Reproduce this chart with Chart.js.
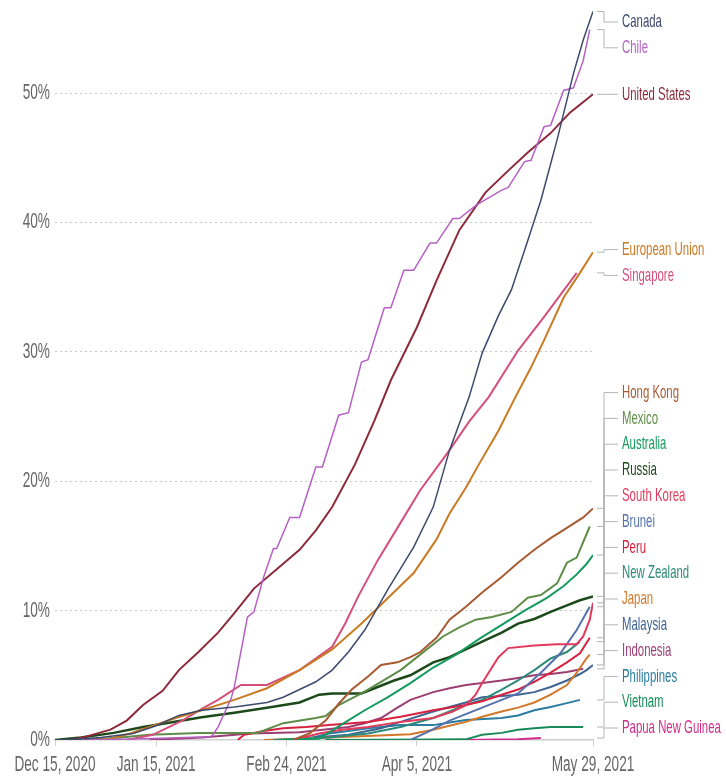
<!DOCTYPE html>
<html>
<head>
<meta charset="utf-8">
<script src="https://cdn.jsdelivr.net/npm/chart.js@4.4.1/dist/chart.umd.min.js"></script>
<style>
  html, body { margin: 0; padding: 0; background: #fff; }
  #wrap { width: 726px; height: 782px; position: relative; }
</style>
</head>
<body>
<div id="wrap"><canvas id="vax-chart"></canvas></div>
<script>
// x values are days since Dec 15, 2020; y values are % of population
const tickDays = [0, 31, 71, 111, 165];
const tickLabels = ['Dec 15, 2020', 'Jan 15, 2021', 'Feb 24, 2021', 'Apr 5, 2021', 'May 29, 2021'];
const yTicks = [0, 10, 20, 30, 40, 50];

const canada = [[0,0],[7,0.05],[14,0.2],[24,0.5],[31,1.1],[38,1.9],[45,2.3],[55,2.55],[65,2.9],[70,3.3],[75,3.9],[80,4.5],[85,5.4],[90,6.8],[95,8.5],[102,11.6],[110,14.9],[116,18.0],[121,22.4],[127,26.5],[131,29.9],[136,32.8],[140,34.8],[145,38.6],[149,41.7],[154,46.4],[159,51.5],[162,54.1],[165,56.3]];
const chile = [[9,0],[27,0.1],[48,0.25],[50,1.0],[54,3.2],[55,4.1],[59,9.5],[61,9.9],[64,12.6],[67,14.8],[68,14.8],[72,17.2],[75,17.2],[80,21.1],[82,21.1],[87,25.1],[90,25.3],[94,29.2],[96,29.4],[101,33.4],[103,33.4],[107,36.3],[110,36.3],[115,38.4],[117,38.4],[122,40.3],[124,40.3],[129,41.3],[131,41.6],[137,42.5],[139,42.7],[144,44.7],[146,44.8],[150,47.4],[152,47.5],[156,50.2],[159,50.4],[162,52.5],[164,54.9]];
const unitedStates = [[5,0],[10,0.3],[17,0.8],[22,1.5],[27,2.7],[33,3.8],[38,5.4],[44,6.8],[50,8.3],[55,9.8],[61,11.7],[68,13.2],[75,14.7],[80,16.2],[85,18.0],[92,21.3],[98,24.7],[103,27.8],[111,31.9],[117,35.5],[124,39.4],[132,42.3],[139,44.0],[145,45.4],[152,46.9],[158,48.5],[165,49.9]];
const europeanUnion = [[12,0],[17,0.1],[23,0.5],[29,1.0],[37,1.7],[45,2.3],[55,3.1],[65,4.0],[75,5.4],[85,7.0],[94,9.0],[101,10.7],[110,12.9],[117,15.5],[121,17.5],[126,19.5],[130,21.3],[136,23.9],[141,26.4],[146,28.8],[150,30.9],[156,34.2],[161,36.1],[165,37.7]];
const singapore = [[22,0],[30,0.4],[39,1.5],[45,2.4],[50,3.1],[57,4.25],[65,4.25],[75,5.4],[85,7.2],[89,9.0],[93,11.1],[99,13.9],[106,16.8],[112,19.3],[121,22.4],[127,24.6],[133,26.5],[142,30.1],[150,32.7],[155,34.4],[160,36.1]];
const hongKong = [[73,0],[78,0.5],[83,1.5],[87,2.8],[91,3.9],[96,4.9],[100,5.8],[105,6.0],[109,6.4],[112,6.8],[117,7.9],[121,9.3],[126,10.3],[131,11.4],[137,12.6],[142,13.7],[147,14.7],[152,15.6],[157,16.4],[162,17.2],[165,17.9]];
const mexico = [[9,0],[20,0.2],[29,0.4],[44,0.55],[62,0.55],[70,1.3],[80,1.7],[83,1.85],[87,2.7],[94,3.6],[100,4.5],[106,5.4],[112,6.6],[119,8.0],[124,8.7],[129,9.3],[134,9.5],[140,9.9],[145,11.0],[149,11.2],[154,12.1],[157,13.7],[160,14.1],[164,16.5]];
const australia = [[69,0],[81,0.1],[88,1.2],[95,2.3],[102,3.3],[109,4.4],[116,5.6],[123,6.6],[130,7.8],[137,8.9],[144,10.0],[151,11.0],[156,11.9],[160,12.8],[163,13.6],[165,14.3]];
const russia = [[0,0],[8,0.2],[18,0.55],[27,1.0],[34,1.3],[45,1.75],[55,2.1],[65,2.5],[75,2.9],[81,3.5],[85,3.6],[94,3.6],[98,4.0],[104,4.6],[109,5.0],[116,6.0],[121,6.4],[126,7.0],[131,7.6],[137,8.3],[142,9.0],[147,9.35],[152,9.9],[157,10.4],[161,10.8],[165,11.1]];
const southKorea = [[73,0],[81,0.5],[88,0.8],[96,1.0],[106,1.4],[116,1.7],[122,2.2],[126,2.7],[129,3.5],[131,4.4],[134,5.6],[136,6.4],[139,7.1],[147,7.3],[154,7.4],[160,7.4],[162,8.0],[164,9.3],[165,10.6]];
const brunei = [[109,0],[115,0.7],[121,1.5],[126,2.0],[131,2.5],[137,3.1],[142,3.6],[149,5.2],[155,6.7],[160,8.5],[164,10.3]];
const peru = [[56,0],[58,0.4],[64,0.7],[70,0.9],[77,1.0],[84,1.15],[96,1.4],[106,1.8],[116,2.3],[126,2.7],[131,3.0],[137,3.5],[142,3.9],[147,4.5],[152,5.2],[157,6.0],[161,6.7],[164,7.9]];
const newZealand = [[67,0],[75,0.1],[84,0.2],[96,0.5],[106,1.0],[116,1.7],[121,2.2],[126,2.7],[131,3.1],[137,3.9],[142,4.6],[147,5.4],[152,6.3],[157,6.8],[161,7.6]];
const japan = [[64,0],[75,0.1],[90,0.25],[109,0.45],[116,0.8],[121,1.1],[126,1.4],[131,1.8],[137,2.2],[142,2.5],[147,2.9],[152,3.5],[157,4.25],[160,5.2],[163,6.3],[164,6.6]];
const malaysia = [[71,0],[75,0.1],[90,0.4],[100,0.9],[106,1.4],[116,2.2],[126,2.9],[131,3.3],[137,3.4],[142,3.5],[147,3.7],[152,4.1],[157,4.6],[161,5.1],[163,5.4],[165,5.8]];
const indonesia = [[29,0],[45,0.2],[60,0.5],[75,0.6],[90,1.0],[95,1.3],[100,1.7],[105,2.5],[109,3.1],[116,3.7],[121,4.0],[126,4.25],[131,4.4],[137,4.6],[142,4.8],[147,5.0],[152,5.1],[157,5.25],[162,5.5]];
const philippines = [[76,0],[84,0.5],[90,0.7],[96,0.9],[106,1.15],[116,1.15],[121,1.35],[126,1.55],[137,1.7],[142,1.9],[147,2.3],[152,2.55],[157,2.85],[161,3.1]];
const vietnam = [[83,0],[100,0.02],[115,0.03],[126,0.05],[131,0.4],[137,0.55],[142,0.8],[147,0.9],[152,1.0],[158,1.0],[162,1.0]];
const papuaNewGuinea = [[126,0],[135,0.03],[142,0.06],[149,0.15]];

const series = [
    { name: 'Canada', data: canada, color: '#3d4a6e', width: 1.5 },
    { name: 'Chile', data: chile, color: '#b561c4', width: 1.5 },
    { name: 'United States', data: unitedStates, color: '#8e2a3c', width: 2 },
    { name: 'European Union', data: europeanUnion, color: '#c97a22', width: 2 },
    { name: 'Singapore', data: singapore, color: '#d4507a', width: 2 },
    { name: 'Hong Kong', data: hongKong, color: '#a85a32', width: 2 },
    { name: 'Mexico', data: mexico, color: '#5f8d48', width: 2 },
    { name: 'Australia', data: australia, color: '#139a5e', width: 2 },
    { name: 'Russia', data: russia, color: '#1d4a1a', width: 2.5 },
    { name: 'South Korea', data: southKorea, color: '#e23a5c', width: 2 },
    { name: 'Brunei', data: brunei, color: '#5672ae', width: 2 },
    { name: 'Peru', data: peru, color: '#d6213f', width: 2 },
    { name: 'New Zealand', data: newZealand, color: '#2d8a78', width: 2 },
    { name: 'Japan', data: japan, color: '#d37828', width: 2 },
    { name: 'Malaysia', data: malaysia, color: '#3f6592', width: 2 },
    { name: 'Indonesia', data: indonesia, color: '#9b3f73', width: 2 },
    { name: 'Philippines', data: philippines, color: '#2a7d9e', width: 2 },
    { name: 'Vietnam', data: vietnam, color: '#178a58', width: 2 },
    { name: 'Papua New Guinea', data: papuaNewGuinea, color: '#d22c8c', width: 2 },
];

const FONT = '"Liberation Sans", Arial, sans-serif';

// the reference uses a very condensed face, so squeeze the text horizontally
function narrowText(ctx, text, x, y, size, squeeze, align) {
    ctx.save();
    ctx.font = size + 'px ' + FONT;
    ctx.textBaseline = 'middle';
    ctx.textAlign = align;
    ctx.translate(x, y);
    ctx.scale(squeeze, 1);
    ctx.fillText(text, 0, 0);
    ctx.restore();
}

// push overlapping labels apart, keeping them inside [minY, maxY]
function spreadLabels(items, minY, maxY, gap) {
    items.sort((a, b) => a.want - b.want);
    const place = c => {
        const n = c.items.length;
        const mean = c.items.reduce((s, it) => s + it.want, 0) / n;
        let top = mean - (n - 1) * gap / 2;
        top = Math.max(minY, Math.min(top, maxY - (n - 1) * gap));
        c.top = top;
    };
    const clusters = items.map(it => ({ items: [it] }));
    clusters.forEach(place);
    let merged = true;
    while (merged) {
        merged = false;
        for (let i = 0; i < clusters.length - 1; i++) {
            const a = clusters[i], b = clusters[i + 1];
            if (a.top + a.items.length * gap > b.top + 0.01) {
                a.items = a.items.concat(b.items);
                clusters.splice(i + 1, 1);
                place(a);
                merged = true;
                break;
            }
        }
    }
    clusters.forEach(c => c.items.forEach((it, k) => { it.y = c.top + k * gap; }));
}

const axisText = {
    id: 'axisText',
    afterDraw(chart) {
        const { ctx, chartArea, scales } = chart;
        ctx.fillStyle = '#666';
        scales.y.ticks.forEach(t => {
            narrowText(ctx, t.value + '%', chartArea.left - 5, scales.y.getPixelForValue(t.value), 22, 0.62, 'right');
        });
        scales.x.ticks.forEach(t => {
            const label = tickLabels[tickDays.indexOf(t.value)];
            narrowText(ctx, label, scales.x.getPixelForValue(t.value), chartArea.bottom + 25, 22, 0.62, 'center');
        });
    }
};

const endLabels = {
    id: 'endLabels',
    afterDatasetsDraw(chart) {
        const { ctx, chartArea } = chart;
        const items = chart.data.datasets.map((ds, i) => {
            const pts = chart.getDatasetMeta(i).data;
            const last = pts[pts.length - 1];
            return { name: ds.label, color: ds.borderColor, yEnd: last.y, want: last.y };
        });
        spreadLabels(items, chartArea.top + 14, chartArea.bottom - 12, 25.8);

        const x0 = chartArea.right + 4;
        const xElbow = chartArea.right + 11;
        const x1 = chartArea.right + 25;
        ctx.save();
        ctx.strokeStyle = '#b5b5b5';
        ctx.lineWidth = 1;
        items.forEach(it => {
            ctx.beginPath();
            ctx.moveTo(x0, it.yEnd);
            ctx.lineTo(xElbow, it.yEnd);
            ctx.lineTo(xElbow, it.y);
            ctx.lineTo(x1, it.y);
            ctx.stroke();
        });
        items.forEach(it => {
            ctx.fillStyle = it.color;
            narrowText(ctx, it.name, x1 + 4, it.y, 19, 0.6, 'left');
        });
        ctx.restore();
    }
};

new Chart(document.getElementById('vax-chart'), {
    type: 'line',
    data: {
        datasets: series.map(s => ({
            label: s.name,
            data: s.data.map(p => ({ x: p[0], y: p[1] })),
            borderColor: s.color,
            backgroundColor: s.color,
            borderWidth: s.width,
            pointRadius: 0,
            tension: 0,
            fill: false,
        })),
    },
    options: {
        responsive: true,
        maintainAspectRatio: false,
        animation: false,
        layout: { padding: { top: 8, right: 133, left: 0, bottom: 0 } },
        scales: {
            x: {
                type: 'linear',
                min: 0,
                max: 165,
                afterBuildTicks: scale => { scale.ticks = tickDays.map(v => ({ value: v })); },
                afterFit: scale => { scale.height = 42; },
                ticks: { display: false },
                grid: { drawOnChartArea: false, drawTicks: true, tickLength: 6, color: '#cfcfcf' },
                border: { display: true, color: '#cfcfcf', width: 1.5 },
            },
            y: {
                min: 0,
                max: 56.57,
                afterBuildTicks: scale => { scale.ticks = yTicks.map(v => ({ value: v })); },
                afterFit: scale => { scale.width = 55; },
                ticks: { display: false },
                grid: {
                    drawTicks: false,
                    color: ctx => ctx.tick && ctx.tick.value === 0 ? 'rgba(0,0,0,0)' : '#c8c8c8',
                },
                border: { display: false, dash: [2, 3] },
            },
        },
        plugins: {
            legend: { display: false },
            tooltip: { enabled: false },
        },
    },
    plugins: [axisText, endLabels],
});
</script>
</body>
</html>
